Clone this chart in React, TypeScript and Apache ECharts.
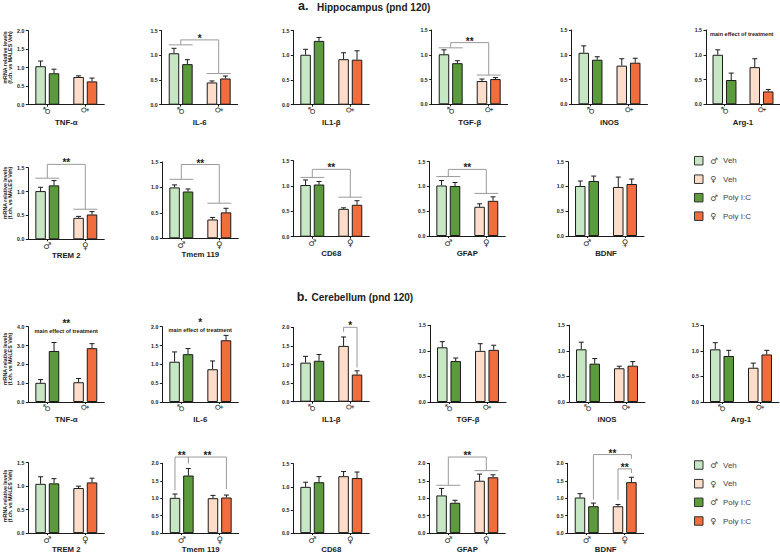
import React, { useEffect, useRef } from 'react';
import * as echarts from 'echarts';

// ---------------- data ----------------
const SEX_CATEGORIES = ['♂', '♀'];
const GENES = ['TNF-α', 'IL-6', 'IL1-β', 'TGF-β', 'iNOS', 'Arg-1', 'TREM 2', 'Tmem 119', 'CD68', 'GFAP', 'BDNF'];
const SECTION_LETTERS = ['a.', 'b.'];
const SECTION_NAMES = ['Hippocampus (pnd 120)', 'Cerebellum (pnd 120)'];
const LEGEND_SEX = ['♂', '♀', '♂', '♀'];
const LEGEND_TREATMENT = ['Veh', 'Veh', 'Poly I:C', 'Poly I:C'];
const Y_TITLE_LINES = ['mRNA relative levels', '(f.ch. vs MALES Veh)'];

// Hippocampus (pnd 120): mean fold change and SEM per gene
const HIP_MALE_VEH = [1.04, 1.04, 1.01, 1.01, 1.04, 1.0, 1.01, 1.0, 1.02, 1.02, 1.01];
const HIP_MALE_VEH_SEM = [0.14, 0.1, 0.11, 0.09, 0.14, 0.1, 0.08, 0.05, 0.1, 0.1, 0.1];
const HIP_FEMALE_VEH = [0.75, 0.45, 0.92, 0.47, 0.78, 0.75, 0.45, 0.37, 0.55, 0.59, 0.99];
const HIP_FEMALE_VEH_SEM = [0.03, 0.03, 0.13, 0.04, 0.14, 0.17, 0.03, 0.04, 0.02, 0.06, 0.2];
const HIP_MALE_POLY = [0.85, 0.82, 1.29, 0.83, 0.9, 0.49, 1.13, 0.92, 1.03, 1.01, 1.11];
const HIP_MALE_POLY_SEM = [0.11, 0.09, 0.07, 0.05, 0.06, 0.14, 0.1, 0.05, 0.06, 0.07, 0.1];
const HIP_FEMALE_POLY = [0.63, 0.53, 0.91, 0.51, 0.84, 0.26, 0.52, 0.51, 0.63, 0.71, 1.05];
const HIP_FEMALE_POLY_SEM = [0.09, 0.05, 0.18, 0.03, 0.09, 0.04, 0.06, 0.08, 0.08, 0.08, 0.1];
const HIP_Y_MAX = [2, 1.5, 1.5, 1.5, 1.5, 1.5, 1.5, 1.5, 1.5, 1.5, 1.5];

// Cerebellum (pnd 120)
const CER_MALE_VEH = [1.02, 1.07, 1.05, 1.07, 1.03, 1.03, 1.05, 1.01, 1.0, 1.08, 1.02];
const CER_MALE_VEH_SEM = [0.17, 0.26, 0.17, 0.11, 0.14, 0.13, 0.15, 0.11, 0.1, 0.2, 0.11];
const CER_FEMALE_VEH = [1.05, 0.87, 1.5, 1.0, 0.66, 0.67, 0.96, 1.0, 1.23, 1.5, 0.77];
const CER_FEMALE_VEH_SEM = [0.2, 0.22, 0.24, 0.14, 0.04, 0.09, 0.04, 0.08, 0.1, 0.19, 0.05];
const CER_MALE_POLY = [2.71, 1.27, 1.1, 0.8, 0.75, 0.9, 1.06, 1.65, 1.1, 0.87, 0.77];
const CER_MALE_POLY_SEM = [0.45, 0.15, 0.17, 0.06, 0.1, 0.11, 0.1, 0.2, 0.12, 0.07, 0.09];
const CER_FEMALE_POLY = [2.86, 1.64, 0.73, 1.02, 0.71, 0.93, 1.08, 1.02, 1.19, 1.6, 1.46];
const CER_FEMALE_POLY_SEM = [0.24, 0.13, 0.1, 0.09, 0.08, 0.08, 0.09, 0.07, 0.13, 0.07, 0.14];
const CER_Y_MAX = [4, 2, 2, 1.5, 1.5, 1.5, 1.5, 2, 1.5, 2, 2];

// significance brackets: [gene, fromSex, fromBar, toSex, toBar, topValue, leftEndValue, rightEndValue, label]
// bar: -1 = Veh bar, 1 = Poly I:C bar, 0 = both bars of that sex (group line)
const HIP_BRACKETS: any[] = [
  [1, 0, 0, 1, 0, 1.31, 1.21, 0.63, '*'],
  [3, 0, 0, 1, 0, 1.245, 1.14, 0.59, '**'],
  [6, 0, 0, 1, 0, 1.57, 1.28, 0.63, '**'],
  [7, 0, 0, 1, 0, 1.45, 1.16, 0.69, '**'],
  [8, 0, 0, 1, 0, 1.33, 1.17, 0.78, '**'],
  [9, 0, 0, 1, 0, 1.345, 1.2, 0.86, '**'],
];
const CER_BRACKETS: any[] = [
  [2, 1, -1, 1, 1, 2.0, 1.88, 0.92, '*'],
  [7, 0, -1, 0, 1, 2.18, 1.23, 2.0, '**'],
  [7, 0, 1, 1, 1, 2.18, 2.0, 1.26, '**'],
  [9, 0, 0, 1, 0, 2.18, 1.37, 1.79, '**'],
  [10, 0, 1, 1, 1, 2.25, 0.96, 2.13, '**'],
  [10, 1, -1, 1, 1, 1.84, 0.95, 1.72, '**'],
];
// notes: [gene, value, text, align]
const HIP_NOTES: any[] = [[5, 1.41, 'main effect of treatment', 'left']];
const CER_NOTES: any[] = [
  [0, 4.28, '**', 'center'],
  [0, 3.75, 'main effect of treatment', 'center'],
  [1, 2.15, '*', 'center'],
  [1, 1.91, 'main effect of treatment', 'center'],
];

// ---------------- layout & style ----------------
const GROUP_COLORS = ['#c7e6c3', '#fddcca', '#5b9b3c', '#f26d3d']; // ♂Veh, ♀Veh, ♂Poly, ♀Poly
const FONT = 'Arial, "Liberation Sans", Helvetica, sans-serif';
const SYM_FONT = '"DejaVu Sans", Arial, sans-serif';
const INK = '#1b1b1b';
const BRACKET_COLOR = '#9a9a9a';
const PLOT_W = 76;
const BAR_W = 10.5;
const BAR_GAP_PCT = 28;
const BAR_OFFSET = (BAR_W * (1 + BAR_GAP_PCT / 100)) / 2;
const PAIR_HALF = BAR_W + (BAR_W * BAR_GAP_PCT) / 100 / 2;
const CAP = 5;

// [axis x, top (max value) y, zero y]
const HIP_BOXES = [
  [28.3, 30.7, 104.7], [161.7, 30.5, 104.7], [293.3, 30.5, 104.7], [431.7, 30, 104.3], [571.5, 30, 104.3], [706, 30, 104.3],
  [28.3, 167.7, 239.3], [162.3, 162, 238.3], [293.3, 160.7, 236.7], [429.3, 161.7, 236], [568, 161.7, 236],
];
const CER_BOXES = [
  [28.3, 326.7, 402], [162.3, 326.7, 402], [293.3, 327.3, 401.7], [430, 325.3, 402], [569, 325.3, 402], [703, 325.3, 402],
  [28.3, 462.7, 537.3], [162.7, 463.3, 537.3], [293.3, 463.7, 537.7], [429.3, 463.3, 537.3], [567.7, 463.3, 537.7],
];
const ROW_TITLE_Y = [120.7, 253.8, 416, 550.7];
const Y_TITLE_CENTER = [57.5, 193, 359, 496];
const LEGEND_Y = [[160.7, 179.2, 197.7, 216.2], [465, 483.7, 502.3, 521]];
const SECTION_Y = [7, 297.5];
const SECTION_X = [[298, 317], [296.7, 311.5]];

const renderError = (params: any, api: any) => {
  const cat = api.value(0);
  const mean = api.value(1);
  const sem = api.value(2);
  const slot = api.value(3);
  const base = api.coord([cat, mean]);
  const tip = api.coord([cat, mean + sem]);
  const x = base[0] + slot * BAR_OFFSET;
  const style = { stroke: INK, lineWidth: 1 };
  return {
    type: 'group',
    children: [
      { type: 'line', shape: { x1: x, y1: base[1], x2: x, y2: tip[1] }, style },
      { type: 'line', shape: { x1: x - CAP / 2, y1: tip[1], x2: x + CAP / 2, y2: tip[1] }, style },
    ],
  };
};

const makeBracketRender = (list: any[]) => (params: any, api: any) => {
  const [, fs, fb, ts, tb, top, lEnd, rEnd, label] = list[params.dataIndex];
  const pL = api.coord([fs, top]);
  const pR = api.coord([ts, top]);
  const xL = pL[0] + fb * BAR_OFFSET;
  const xR = pR[0] + tb * BAR_OFFSET;
  const yT = pL[1];
  const yL = api.coord([fs, lEnd])[1];
  const yR = api.coord([ts, rEnd])[1];
  const style = { stroke: BRACKET_COLOR, lineWidth: 1, fill: 'none' };
  const children: any[] = [
    { type: 'polyline', shape: { points: [[xL, yL], [xL, yT], [xR, yT], [xR, yR]] }, style },
  ];
  if (fb === 0) children.push({ type: 'line', shape: { x1: xL - PAIR_HALF, y1: yL, x2: xL + PAIR_HALF, y2: yL }, style });
  if (tb === 0) children.push({ type: 'line', shape: { x1: xR - PAIR_HALF, y1: yR, x2: xR + PAIR_HALF, y2: yR }, style });
  children.push({
    type: 'text',
    style: {
      text: label, x: (xL + xR) / 2, y: yT - 1.5, align: 'center', verticalAlign: 'middle', fill: INK,
      font: `bold 10px ${FONT}`, lineHeight: 6,
    },
  });
  return { type: 'group', children };
};

const makeNoteRender = (list: any[]) => (params: any, api: any) => {
  const [, value, text, align] = list[params.dataIndex];
  const p0 = api.coord([0, value]);
  const p1 = api.coord([1, value]);
  const band = api.size([1, 0])[0];
  const star = String(text).startsWith('*');
  const x = align === 'left' ? p0[0] - band / 2 + 4 : (p0[0] + p1[0]) / 2;
  return {
    type: 'text',
    style: {
      text, x, y: p0[1] + (star ? 1.7 : 0), align, verticalAlign: 'middle', fill: INK,
      font: star ? `bold 10px ${FONT}` : `bold 5.6px ${FONT}`,
      lineHeight: star ? 5 : 6,
    },
  };
};

function buildOption() {
  const grid: any[] = [];
  const xAxis: any[] = [];
  const yAxis: any[] = [];
  const series: any[] = [];
  const tissues = [
    {
      means: [HIP_MALE_VEH, HIP_FEMALE_VEH, HIP_MALE_POLY, HIP_FEMALE_POLY],
      sems: [HIP_MALE_VEH_SEM, HIP_FEMALE_VEH_SEM, HIP_MALE_POLY_SEM, HIP_FEMALE_POLY_SEM],
      yMax: HIP_Y_MAX, boxes: HIP_BOXES, brackets: HIP_BRACKETS, notes: HIP_NOTES,
    },
    {
      means: [CER_MALE_VEH, CER_FEMALE_VEH, CER_MALE_POLY, CER_FEMALE_POLY],
      sems: [CER_MALE_VEH_SEM, CER_FEMALE_VEH_SEM, CER_MALE_POLY_SEM, CER_FEMALE_POLY_SEM],
      yMax: CER_Y_MAX, boxes: CER_BOXES, brackets: CER_BRACKETS, notes: CER_NOTES,
    },
  ];
  let gi = 0;
  tissues.forEach((t, ti) => {
    GENES.forEach((gene, g) => {
      const [left, top, zero] = t.boxes[g];
      const row = ti * 2 + (g < 6 ? 0 : 1);
      const rotated = row % 2 === 0;
      grid.push({ left, top, width: PLOT_W, height: zero - top });
      xAxis.push({
        type: 'category',
        gridIndex: gi,
        data: SEX_CATEGORIES,
        name: gene,
        nameLocation: 'middle',
        nameGap: ROW_TITLE_Y[row] - zero - 4.3,
        nameTextStyle: { fontFamily: FONT, fontWeight: 'bold', fontSize: 7.8, color: INK },
        axisLine: { show: true, lineStyle: { color: INK, width: 1 } },
        axisTick: { show: true, alignWithLabel: true, length: 2, lineStyle: { color: INK } },
        axisLabel: { rotate: rotated ? 90 : 0, margin: 2, fontSize: 9, color: '#333', fontFamily: SYM_FONT },
      });
      const yMax = t.yMax[g];
      yAxis.push({
        type: 'value',
        gridIndex: gi,
        min: 0,
        max: yMax,
        interval: yMax > 2 ? 1 : 0.5,
        axisLine: { show: true, lineStyle: { color: INK, width: 1 } },
        axisTick: { show: true, length: 2.5, lineStyle: { color: INK } },
        splitLine: { show: false },
        axisLabel: {
          formatter: (v: number) => v.toFixed(1),
          fontSize: 5.2, fontWeight: 'bold', fontFamily: FONT, margin: 4, color: INK,
        },
      });
      series.push({
        type: 'bar', name: 'Veh', xAxisIndex: gi, yAxisIndex: gi, barWidth: BAR_W, barGap: `${BAR_GAP_PCT}%`,
        silent: true, itemStyle: { borderColor: INK, borderWidth: 1 },
        data: [
          { value: t.means[0][g], itemStyle: { color: GROUP_COLORS[0] } },
          { value: t.means[1][g], itemStyle: { color: GROUP_COLORS[1] } },
        ],
      });
      series.push({
        type: 'bar', name: 'Poly I:C', xAxisIndex: gi, yAxisIndex: gi, barWidth: BAR_W, barGap: `${BAR_GAP_PCT}%`,
        silent: true, itemStyle: { borderColor: INK, borderWidth: 1 },
        data: [
          { value: t.means[2][g], itemStyle: { color: GROUP_COLORS[2] } },
          { value: t.means[3][g], itemStyle: { color: GROUP_COLORS[3] } },
        ],
      });
      series.push({
        type: 'custom', xAxisIndex: gi, yAxisIndex: gi, z: 5, silent: true,
        renderItem: renderError,
        encode: { x: 0, y: 1 },
        data: [
          [0, t.means[0][g], t.sems[0][g], -1],
          [1, t.means[1][g], t.sems[1][g], -1],
          [0, t.means[2][g], t.sems[2][g], 1],
          [1, t.means[3][g], t.sems[3][g], 1],
        ],
      });
      const br = t.brackets.filter((b: any[]) => b[0] === g);
      if (br.length) {
        series.push({
          type: 'custom', xAxisIndex: gi, yAxisIndex: gi, z: 6, silent: true, clip: false,
          renderItem: makeBracketRender(br), encode: { x: 0, y: 1 },
          data: br.map((b: any[]) => [b[1], b[5]]),
        });
      }
      const notes = t.notes.filter((n: any[]) => n[0] === g);
      if (notes.length) {
        series.push({
          type: 'custom', xAxisIndex: gi, yAxisIndex: gi, z: 6, silent: true, clip: false,
          renderItem: makeNoteRender(notes), encode: { x: 0, y: 1 },
          data: notes.map((n: any[]) => [0, n[1]]),
        });
      }
      gi++;
    });
  });

  const graphic: any[] = [];
  SECTION_LETTERS.forEach((letter, i) => {
    graphic.push({
      type: 'text', x: SECTION_X[i][0], y: SECTION_Y[i] - 0.8,
      style: { text: letter, font: `bold 12.5px ${FONT}`, fill: INK, align: 'left', verticalAlign: 'middle' },
    });
    graphic.push({
      type: 'text', x: SECTION_X[i][1], y: SECTION_Y[i],
      style: { text: SECTION_NAMES[i], font: `bold 10px ${FONT}`, fill: INK, align: 'left', verticalAlign: 'middle' },
    });
  });
  Y_TITLE_CENTER.forEach((cy) => {
    graphic.push({
      type: 'text', x: 7.5, y: cy, rotation: Math.PI / 2,
      style: {
        text: Y_TITLE_LINES.join('\n'), font: `bold 5.3px ${FONT}`, lineHeight: 4.6,
        fill: INK, align: 'center', verticalAlign: 'middle',
      },
    });
  });
  LEGEND_Y.forEach((rows) => {
    rows.forEach((cy, i) => {
      graphic.push({
        type: 'rect', shape: { x: 694.5, y: cy - 4.25, width: 8.5, height: 8.5 },
        style: { fill: GROUP_COLORS[i], stroke: '#333', lineWidth: 1 },
      });
      graphic.push({
        type: 'text', x: 710, y: cy,
        style: { text: LEGEND_SEX[i], font: `8.5px ${SYM_FONT}`, fill: '#444', align: 'left', verticalAlign: 'middle' },
      });
      graphic.push({
        type: 'text', x: 723, y: cy,
        style: { text: LEGEND_TREATMENT[i], font: `8px ${FONT}`, fill: '#444', align: 'left', verticalAlign: 'middle' },
      });
    });
  });

  return {
    animation: false,
    backgroundColor: '#ffffff',
    textStyle: { fontFamily: FONT },
    grid,
    xAxis,
    yAxis,
    series,
    graphic,
  };
}

export default function App() {
  const ref = useRef<HTMLDivElement>(null);
  useEffect(() => {
    if (!ref.current) return;
    const chart = echarts.init(ref.current, undefined, { renderer: 'svg' });
    chart.setOption(buildOption() as any);
    return () => chart.dispose();
  }, []);
  return (
    <div
      ref={ref}
      style={{ position: 'absolute', left: 0, top: 0, width: 780, height: 554, background: '#fff' }}
    />
  );
}
